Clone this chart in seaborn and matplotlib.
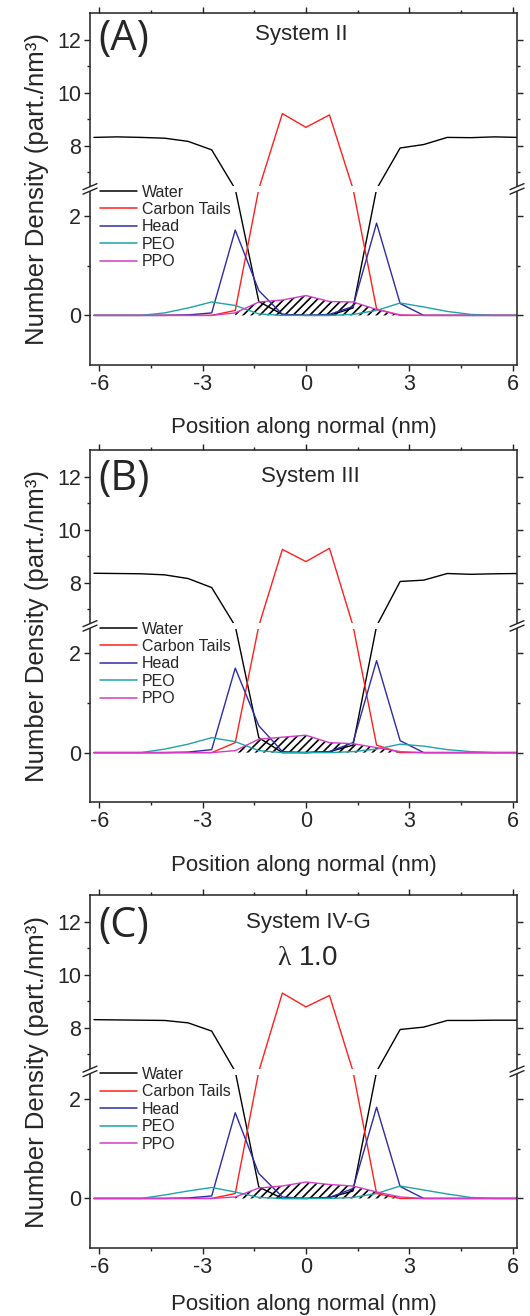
import numpy as np
import pandas as pd
import matplotlib
matplotlib.use("Agg")
import matplotlib.pyplot as plt
import seaborn as sns
from matplotlib.lines import Line2D
from matplotlib.patches import Polygon
from matplotlib.ticker import FixedLocator, StrMethodFormatter

# ---------------- data ----------------
positions = np.round(np.arange(-9, 10) * 0.684, 3)
components = ["Water", "Carbon Tails", "Head", "PEO", "PPO"]
colors = ["#000000", "#ff1f1f", "#2c2ca6", "#1fa3a6", "#d43cc6"]

panel_tags = ["(A)", "(B)", "(C)"]
panel_titles = ["System II", "System III", "System IV-G"]

water_a = [8.31, 8.33, 8.31, 8.28, 8.16, 7.84, 4.2, 0.28, 0.02, 0.0, 0.0, 0.15, 4.3, 7.91, 8.04, 8.31, 8.30, 8.33, 8.31]
tails_a = [0, 0, 0, 0, 0, 0.0, 0.10, 4.6, 9.21, 8.69, 9.16, 4.6, 0.13, 0.0, 0, 0, 0, 0, 0]
head_a = [0, 0, 0, 0, 0.01, 0.05, 1.72, 0.50, 0.02, 0.0, 0.02, 0.18, 1.86, 0.24, 0.0, 0, 0, 0, 0]
peo_a = [0, 0, 0.0, 0.05, 0.15, 0.27, 0.20, 0.03, 0, 0, 0, 0.02, 0.10, 0.25, 0.17, 0.08, 0.02, 0, 0]
ppo_a = [0, 0, 0, 0, 0, 0.0, 0.05, 0.27, 0.31, 0.40, 0.28, 0.27, 0.12, 0.01, 0, 0, 0, 0, 0]

water_b = [8.35, 8.34, 8.33, 8.29, 8.15, 7.81, 4.2, 0.30, 0.0, 0.0, 0.02, 0.15, 4.2, 8.04, 8.09, 8.34, 8.31, 8.33, 8.34]
tails_b = [0, 0, 0, 0, 0, 0.0, 0.20, 4.6, 9.25, 8.79, 9.29, 4.6, 0.15, 0.0, 0, 0, 0, 0, 0]
head_b = [0, 0, 0, 0, 0.01, 0.06, 1.70, 0.54, 0.02, 0.0, 0.02, 0.20, 1.85, 0.24, 0.0, 0, 0, 0, 0]
peo_b = [0, 0, 0.0, 0.07, 0.17, 0.30, 0.22, 0.04, 0, 0, 0, 0.02, 0.07, 0.17, 0.13, 0.06, 0.02, 0, 0]
ppo_b = [0, 0, 0, 0, 0, 0.0, 0.04, 0.27, 0.31, 0.35, 0.20, 0.18, 0.10, 0.02, 0, 0, 0, 0, 0]

water_c = [8.31, 8.30, 8.29, 8.28, 8.19, 7.88, 4.2, 0.23, 0.0, 0.0, 0.02, 0.15, 4.2, 7.94, 8.03, 8.28, 8.28, 8.29, 8.29]
tails_c = [0, 0, 0, 0, 0, 0.0, 0.10, 4.6, 9.31, 8.79, 9.22, 4.6, 0.10, 0.0, 0, 0, 0, 0, 0]
head_c = [0, 0, 0, 0, 0.01, 0.05, 1.72, 0.50, 0.03, 0.0, 0.02, 0.20, 1.83, 0.24, 0.0, 0, 0, 0, 0]
peo_c = [0, 0, 0.0, 0.07, 0.15, 0.22, 0.13, 0.02, 0, 0, 0, 0.02, 0.10, 0.25, 0.17, 0.09, 0.02, 0, 0]
ppo_c = [0, 0, 0, 0, 0, 0.0, 0.03, 0.21, 0.25, 0.33, 0.28, 0.25, 0.13, 0.03, 0, 0, 0, 0, 0]

panels = [
    [water_a, tails_a, head_a, peo_a, ppo_a],
    [water_b, tails_b, head_b, peo_b, ppo_b],
    [water_c, tails_c, head_c, peo_c, ppo_c],
]

x_major = [-6, -3, 0, 3, 6]
x_minor = [-4.5, -1.5, 1.5, 4.5]
y_major = [0, 2, 8, 10, 12]
y_minor = [1, 7, 9, 11]

# ---------------- broken y scale ----------------
B_LO, B_HI, EPS, K = 2.53, 6.4, 0.01, 0.5333
U_HI = B_LO + (B_HI - B_LO) * EPS


def fwd(v):
    v = np.asarray(v, dtype=float)
    return np.where(v <= B_LO, v,
                    np.where(v < B_HI, B_LO + (v - B_LO) * EPS, U_HI + (v - B_HI) * K))


def inv(u):
    u = np.asarray(u, dtype=float)
    return np.where(u <= B_LO, u,
                    np.where(u < U_HI, B_LO + (u - B_LO) / EPS, B_HI + (u - U_HI) / K))


YMIN, YMAX = -1.0, 13.0
XMIN, XMAX = -6.27, 6.13

# ---------------- style ----------------
sns.set_style("ticks")
plt.rcParams["font.family"] = ["Liberation Sans", "DejaVu Sans"]
plt.rcParams["axes.unicode_minus"] = False
plt.rcParams["hatch.color"] = "black"
plt.rcParams["hatch.linewidth"] = 1.2
plt.rcParams["mathtext.fontset"] = "custom"
plt.rcParams["mathtext.rm"] = "Liberation Serif"

fig = plt.figure(figsize=(5.3, 13.16), dpi=100)
left, width = 0.1698, 0.8057
boxes = [(0.72264, 0.26725), (0.39035, 0.2677), (0.05144, 0.26847)]
tag_y = [0.927, 0.918, 0.912]
title_xy = [(0.494, 0.941), (0.517, 0.924), (0.511, 0.921)]
xlabel_pad = [16, 16, 11]

for i, (bottom, height) in enumerate(boxes):
    ax = fig.add_axes([left, bottom, width, height])
    vals = panels[i]
    df = pd.DataFrame({
        "Position": np.tile(positions, len(components)),
        "Density": np.concatenate([np.asarray(v, float) for v in vals]),
        "Component": np.repeat(components, len(positions)),
    })
    ax.set_yscale("function", functions=(fwd, inv))
    sns.lineplot(data=df, x="Position", y="Density", hue="Component",
                 hue_order=components, palette=colors, estimator=None,
                 sort=False, linewidth=1.0, legend=False, ax=ax)
    # hatched PPO region
    ppo = np.asarray(vals[4], float)
    ax.fill_between(positions, 0, ppo, where=ppo > 0, interpolate=False,
                    facecolor="none", edgecolor="black", hatch="////",
                    linewidth=0, zorder=1.5)

    ax.set_xlim(XMIN, XMAX)
    ax.set_ylim(YMIN, YMAX)

    # white gap for the axis break
    ax.axhspan(2.48, 6.47, color="white", lw=0, zorder=2.3)
    f0, f1 = fwd(YMIN), fwd(YMAX)
    yc = (float(fwd(B_LO + 0.5 * (B_HI - B_LO))) - f0) / (f1 - f0)
    dx, dy, g = 7 / 427, 3 / 352, 4.5 / 352
    for x0 in (0.0, 1.0):
        poly = Polygon([(x0 - dx, yc - g / 2 - dy), (x0 + dx, yc - g / 2 + dy),
                        (x0 + dx, yc + g / 2 + dy), (x0 - dx, yc + g / 2 - dy)],
                       closed=True, facecolor="white", edgecolor="none",
                       transform=ax.transAxes, clip_on=False, zorder=5)
        ax.add_patch(poly)
        for s in (-g / 2, g / 2):
            ax.plot([x0 - dx, x0 + dx], [yc + s - dy, yc + s + dy], color="#222222",
                    lw=1.0, transform=ax.transAxes, clip_on=False, zorder=6)

    ax.xaxis.set_major_locator(FixedLocator(x_major))
    ax.xaxis.set_minor_locator(FixedLocator(x_minor))
    ax.yaxis.set_major_locator(FixedLocator(y_major))
    ax.yaxis.set_minor_locator(FixedLocator(y_minor))
    ax.xaxis.set_major_formatter(StrMethodFormatter("{x:g}"))
    ax.yaxis.set_major_formatter(StrMethodFormatter("{x:g}"))
    ax.tick_params(which="both", direction="out", top=True, right=True,
                   labeltop=False, labelright=False, width=1.0, color="#222222")
    ax.tick_params(which="major", length=4.5, labelsize=15.5, pad=2)
    ax.tick_params(which="minor", length=2.5)
    for sp in ax.spines.values():
        sp.set_linewidth(1.1)
        sp.set_color("#222222")

    ax.set_xlabel("Position along normal (nm)", fontsize=16, labelpad=xlabel_pad[i])
    ax.set_ylabel("Number Density (part./nm³)", fontsize=18.5, labelpad=6)

    ax.text(0.019, tag_y[i], panel_tags[i], transform=ax.transAxes,
            fontsize=30, family=["Open Sans", "DejaVu Sans"], ha="left", va="center")
    ax.text(title_xy[i][0], title_xy[i][1], panel_titles[i], transform=ax.transAxes,
            fontsize=16, ha="center", va="center")
    if i == 2:
        ax.text(0.508, 0.821, r"$\mathrm{\lambda}$ 1.0", transform=ax.transAxes,
                fontsize=20, ha="center", va="center")

    handles = [Line2D([0], [0], color=c, lw=1.1) for c in colors]
    ax.legend(handles, components, loc="upper left", bbox_to_anchor=(0.0234, 0.513),
              frameon=False, fontsize=11.5, handlelength=2.3, handletextpad=0.3,
              labelspacing=0.15, borderaxespad=0, borderpad=0)

fig.savefig("out.png", dpi=100)
